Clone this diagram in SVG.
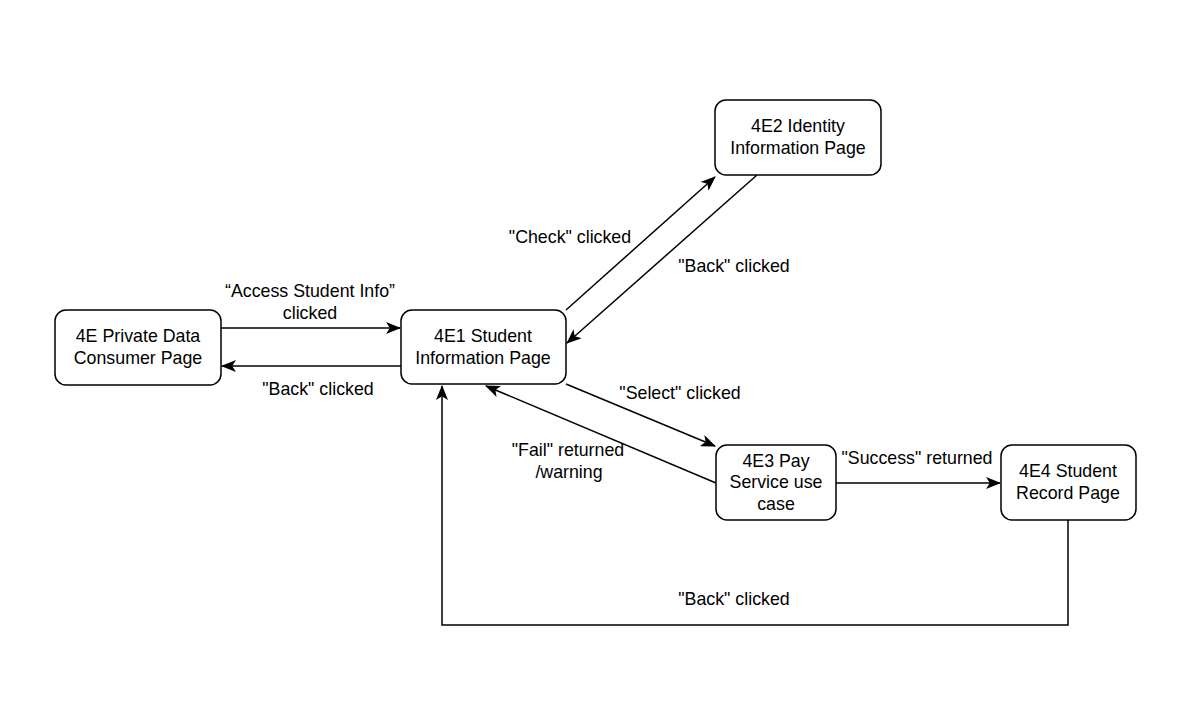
<svg xmlns="http://www.w3.org/2000/svg" width="1177" height="728" viewBox="0 0 1177 728">
<style>
.n rect{fill:#fff;stroke:#000;stroke-width:1.5}
text{font-family:"Liberation Sans",Arial,sans-serif;font-size:17.8px;fill:#000;text-anchor:middle}
.c path{fill:none;stroke:#000;stroke-width:1.5}
</style>
<defs>
<marker id="a" viewBox="0 0 15 12" refX="14" refY="6" markerWidth="15" markerHeight="12" markerUnits="userSpaceOnUse" orient="auto">
<path d="M0,0 L15,6 L0,12 L3.8,6 Z" fill="#000"/>
</marker>
</defs>
<rect width="1177" height="728" fill="#fff"/>
<g id="connectors" class="c">
<path d="M221,328 H400" marker-end="url(#a)"/>
<path d="M401,366 H222" marker-end="url(#a)"/>
<path d="M566,310 L715,177" marker-end="url(#a)"/>
<path d="M757,175 L567,343" marker-end="url(#a)"/>
<path d="M566,384 L715,446" marker-end="url(#a)"/>
<path d="M716,483 L486,386" marker-end="url(#a)"/>
<path d="M836,483 H1000" marker-end="url(#a)"/>
<path d="M1068,520 V625 H442 V386" marker-end="url(#a)"/>
</g>
<g id="labels">
<text x="310" y="297">“Access Student Info”</text>
<text x="310" y="319">clicked</text>
<text x="318" y="395">"Back" clicked</text>
<text x="570" y="243">"Check" clicked</text>
<text x="734" y="272">"Back" clicked</text>
<text x="680" y="399">"Select" clicked</text>
<text x="568" y="456">"Fail" returned</text>
<text x="569" y="478">/warning</text>
<text x="917" y="464">"Success" returned</text>
<text x="734" y="605">"Back" clicked</text>
</g>
<g id="n4E" class="n">
<rect x="55" y="310" width="166" height="75" rx="11"/>
<text x="138" y="342">4E Private Data</text>
<text x="138" y="364">Consumer Page</text>
</g>
<g id="n4E1" class="n">
<rect x="401" y="310" width="165" height="74" rx="11"/>
<text x="483" y="342">4E1 Student</text>
<text x="483" y="364">Information Page</text>
</g>
<g id="n4E2" class="n">
<rect x="715" y="100" width="166" height="75" rx="11"/>
<text x="798" y="132">4E2 Identity</text>
<text x="798" y="154">Information Page</text>
</g>
<g id="n4E3" class="n">
<rect x="716" y="445" width="120" height="75" rx="11"/>
<text x="776" y="467">4E3 Pay</text>
<text x="776" y="488">Service use</text>
<text x="776" y="510">case</text>
</g>
<g id="n4E4" class="n">
<rect x="1001" y="445" width="135" height="75" rx="11"/>
<text x="1068" y="477">4E4 Student</text>
<text x="1068" y="499">Record Page</text>
</g>
</svg>
